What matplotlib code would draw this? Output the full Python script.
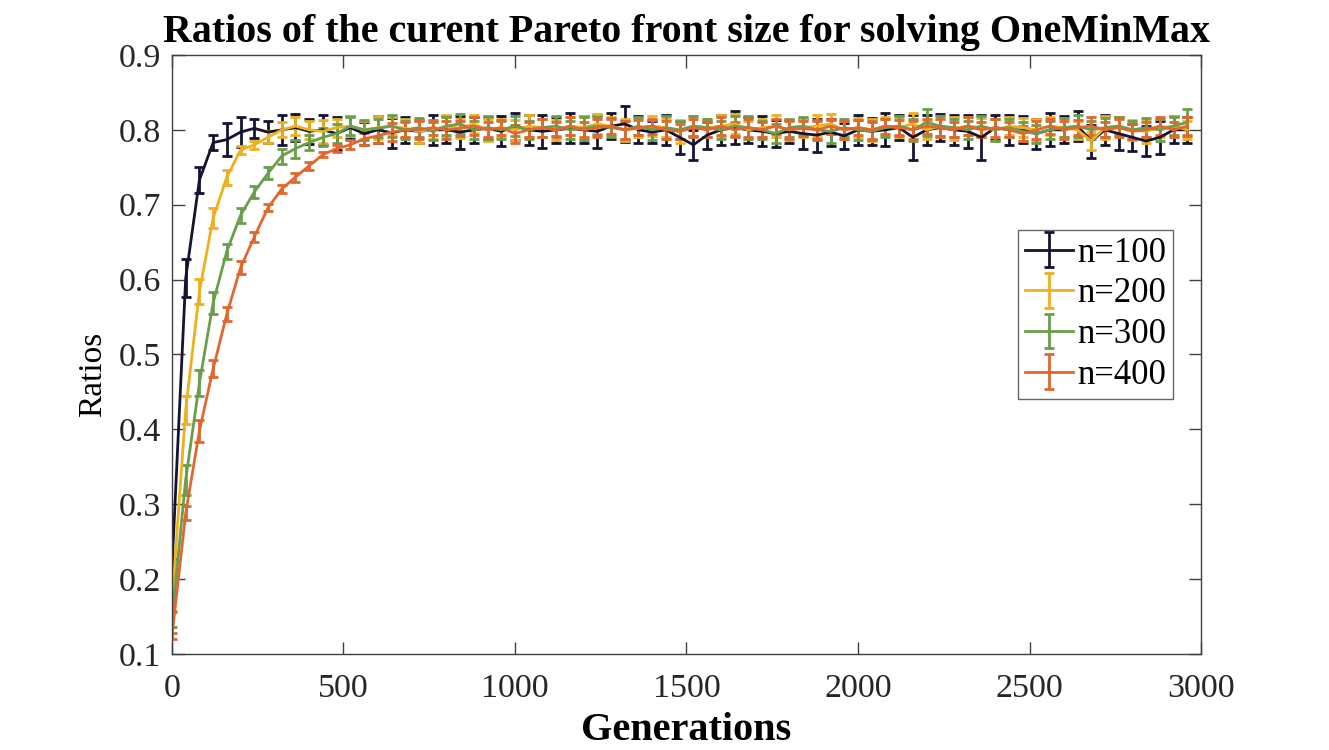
import numpy as np
import matplotlib
matplotlib.use("Agg")
import matplotlib.pyplot as plt

generations = list(range(0, 3000, 40))  # 75 points

ratio_n100 = [
    0.215, 0.602, 0.733, 0.783, 0.787, 0.797, 0.802, 0.797, 0.800, 0.803,
    0.798, 0.800, 0.795, 0.803, 0.795, 0.800, 0.796, 0.800, 0.798, 0.800,
    0.800, 0.797, 0.800, 0.802, 0.798, 0.805, 0.800, 0.798, 0.800, 0.802,
    0.800, 0.798, 0.805, 0.808, 0.800, 0.797, 0.800, 0.790, 0.780, 0.793,
    0.800, 0.803, 0.800, 0.798, 0.795, 0.798, 0.795, 0.793, 0.797, 0.792,
    0.800, 0.798, 0.800, 0.803, 0.790, 0.800, 0.803, 0.800, 0.798, 0.790,
    0.803, 0.800, 0.800, 0.795, 0.800, 0.800, 0.805, 0.785, 0.800, 0.795,
    0.790, 0.785, 0.790, 0.800, 0.800,
]
err_n100 = [
    0.012, 0.025, 0.017, 0.010, 0.022, 0.020, 0.013, 0.015, 0.020, 0.018,
    0.017, 0.020, 0.022, 0.015, 0.015, 0.018, 0.020, 0.017, 0.015, 0.020,
    0.018, 0.022, 0.017, 0.015, 0.020, 0.018, 0.020, 0.022, 0.017, 0.020,
    0.018, 0.022, 0.017, 0.024, 0.018, 0.015, 0.020, 0.022, 0.020, 0.018,
    0.020, 0.022, 0.017, 0.020, 0.018, 0.015, 0.020, 0.022, 0.018, 0.017,
    0.020, 0.018, 0.022, 0.017, 0.030, 0.020, 0.018, 0.020, 0.022, 0.030,
    0.017, 0.020, 0.018, 0.020, 0.022, 0.018, 0.020, 0.022, 0.020, 0.022,
    0.018, 0.020, 0.022, 0.018, 0.017,
]

ratio_n200 = [
    0.168, 0.426, 0.584, 0.682, 0.737, 0.773, 0.780, 0.790, 0.800, 0.805,
    0.800, 0.798, 0.803, 0.805, 0.800, 0.803, 0.805, 0.802, 0.798, 0.800,
    0.805, 0.802, 0.808, 0.800, 0.803, 0.800, 0.805, 0.803, 0.800, 0.805,
    0.803, 0.808, 0.805, 0.800, 0.802, 0.805, 0.803, 0.798, 0.805, 0.803,
    0.805, 0.808, 0.800, 0.803, 0.805, 0.800, 0.803, 0.805, 0.808, 0.800,
    0.803, 0.800, 0.805, 0.803, 0.808, 0.800, 0.805, 0.802, 0.805, 0.803,
    0.800, 0.805, 0.803, 0.800, 0.805, 0.803, 0.800, 0.785, 0.803, 0.805,
    0.800, 0.798, 0.803, 0.805, 0.800,
]
err_n200 = [
    0.010, 0.019, 0.017, 0.013, 0.010, 0.005, 0.005, 0.008, 0.010, 0.012,
    0.012, 0.015, 0.012, 0.013, 0.012, 0.015, 0.012, 0.012, 0.015, 0.012,
    0.015, 0.013, 0.012, 0.015, 0.012, 0.013, 0.015, 0.012, 0.013, 0.012,
    0.015, 0.013, 0.012, 0.015, 0.012, 0.013, 0.012, 0.015, 0.013, 0.012,
    0.015, 0.013, 0.012, 0.012, 0.015, 0.013, 0.012, 0.015, 0.013, 0.012,
    0.013, 0.015, 0.012, 0.013, 0.015, 0.012, 0.013, 0.015, 0.012, 0.013,
    0.015, 0.012, 0.013, 0.015, 0.012, 0.013, 0.012, 0.012, 0.015, 0.012,
    0.013, 0.015, 0.012, 0.013, 0.012,
]

ratio_n300 = [
    0.146, 0.333, 0.462, 0.569, 0.638, 0.686, 0.717, 0.742, 0.765, 0.775,
    0.783, 0.790, 0.795, 0.805, 0.800, 0.802, 0.805, 0.800, 0.803, 0.798,
    0.805, 0.808, 0.800, 0.803, 0.800, 0.805, 0.800, 0.803, 0.805, 0.800,
    0.802, 0.805, 0.803, 0.800, 0.805, 0.800, 0.803, 0.800, 0.805, 0.803,
    0.800, 0.805, 0.803, 0.800, 0.795, 0.803, 0.805, 0.800, 0.798, 0.803,
    0.800, 0.798, 0.803, 0.805, 0.800, 0.810, 0.805, 0.803, 0.800, 0.805,
    0.800, 0.803, 0.798, 0.795, 0.800, 0.803, 0.805, 0.800, 0.803, 0.805,
    0.800, 0.803, 0.800, 0.805, 0.810,
]
err_n300 = [
    0.010, 0.020, 0.017, 0.015, 0.010, 0.010, 0.008, 0.008, 0.010, 0.012,
    0.010, 0.012, 0.013, 0.012, 0.013, 0.012, 0.015, 0.012, 0.013, 0.012,
    0.012, 0.013, 0.012, 0.015, 0.012, 0.013, 0.012, 0.012, 0.013, 0.012,
    0.015, 0.012, 0.013, 0.012, 0.012, 0.013, 0.015, 0.012, 0.013, 0.012,
    0.012, 0.013, 0.015, 0.012, 0.013, 0.012, 0.012, 0.013, 0.015, 0.012,
    0.013, 0.012, 0.012, 0.013, 0.015, 0.018, 0.013, 0.012, 0.012, 0.013,
    0.015, 0.012, 0.013, 0.012, 0.012, 0.013, 0.015, 0.012, 0.013, 0.012,
    0.012, 0.013, 0.015, 0.012, 0.018,
]

ratio_n400 = [
    0.124, 0.288, 0.398, 0.481, 0.554, 0.616, 0.657, 0.696, 0.721, 0.737,
    0.752, 0.767, 0.775, 0.780, 0.788, 0.792, 0.797, 0.800, 0.800, 0.803,
    0.800, 0.802, 0.805, 0.800, 0.803, 0.795, 0.800, 0.803, 0.800, 0.805,
    0.800, 0.803, 0.805, 0.800, 0.803, 0.805, 0.800, 0.798, 0.803, 0.800,
    0.805, 0.800, 0.803, 0.800, 0.805, 0.800, 0.802, 0.800, 0.805, 0.800,
    0.803, 0.800, 0.805, 0.803, 0.800, 0.805, 0.803, 0.800, 0.805, 0.800,
    0.803, 0.800, 0.795, 0.800, 0.805, 0.800, 0.803, 0.805, 0.800, 0.803,
    0.798, 0.800, 0.805, 0.800, 0.805,
]
err_n400 = [
    0.004, 0.009, 0.015, 0.011, 0.009, 0.009, 0.007, 0.005, 0.005, 0.006,
    0.005, 0.003, 0.005, 0.006, 0.008, 0.010, 0.012, 0.010, 0.012, 0.010,
    0.012, 0.010, 0.012, 0.010, 0.010, 0.012, 0.010, 0.012, 0.010, 0.012,
    0.010, 0.012, 0.010, 0.012, 0.010, 0.010, 0.012, 0.010, 0.012, 0.010,
    0.012, 0.010, 0.012, 0.010, 0.010, 0.012, 0.010, 0.012, 0.010, 0.012,
    0.010, 0.012, 0.010, 0.010, 0.012, 0.010, 0.012, 0.010, 0.012, 0.010,
    0.012, 0.010, 0.010, 0.012, 0.010, 0.012, 0.010, 0.012, 0.010, 0.012,
    0.010, 0.010, 0.012, 0.010, 0.012,
]

series_labels = ["n=100", "n=200", "n=300", "n=400"]
series_colors = ["#141432", "#EDB120", "#6A9E4C", "#E0682F"]
series_values = [ratio_n100, ratio_n200, ratio_n300, ratio_n400]
series_errors = [err_n100, err_n200, err_n300, err_n400]

xticks = [0, 500, 1000, 1500, 2000, 2500, 3000]
yticks = [0.1, 0.2, 0.3, 0.4, 0.5, 0.6, 0.7, 0.8, 0.9]

plt.rcParams['font.family'] = ['Liberation Serif', 'DejaVu Serif']

fig = plt.figure(figsize=(13.29, 7.5), dpi=100)
ax = fig.add_axes([0.1294, 0.128, 0.7743, 0.7987])

for vals, errs, col, lab in zip(series_values, series_errors, series_colors, series_labels):
    ax.errorbar(generations, vals, yerr=errs, color=col, label=lab,
                linewidth=2.0, elinewidth=2.0, capsize=3.5, capthick=2.0)

ax.set_xlim(0, 3000)
ax.set_ylim(0.1, 0.9)
ax.set_xticks(xticks)
ax.set_yticks(yticks)
ax.set_xticklabels([str(t) for t in xticks])
ax.set_yticklabels([f"{t:.1f}" for t in yticks])

spine_col = '#404040'
for s in ax.spines.values():
    s.set_color(spine_col)
    s.set_linewidth(1.0)
ax.tick_params(direction='in', length=9, width=1.0, color=spine_col,
               top=True, right=True, labelsize=24.5, labelcolor='#262626')
ax.tick_params(axis='x', pad=14)
ax.tick_params(axis='y', pad=8)

ax.set_title("Ratios of the curent Pareto front size for solving OneMinMax",
             fontsize=28.8, fontweight='bold', pad=9)
ax.set_xlabel("Generations", fontsize=29, fontweight='bold', labelpad=6)
ax.set_ylabel("Ratios", fontsize=24)
ax.yaxis.set_label_coords(-0.062, 0.466)

leg = ax.legend(loc='upper right', bbox_to_anchor=(0.973, 0.708), fontsize=25,
                frameon=True, fancybox=False, edgecolor='#404040',
                handlelength=1.4, handletextpad=0.12, borderpad=0.2,
                labelspacing=0.22, borderaxespad=0)
leg.get_frame().set_linewidth(1.0)

fig.savefig("out.png", dpi=100)
